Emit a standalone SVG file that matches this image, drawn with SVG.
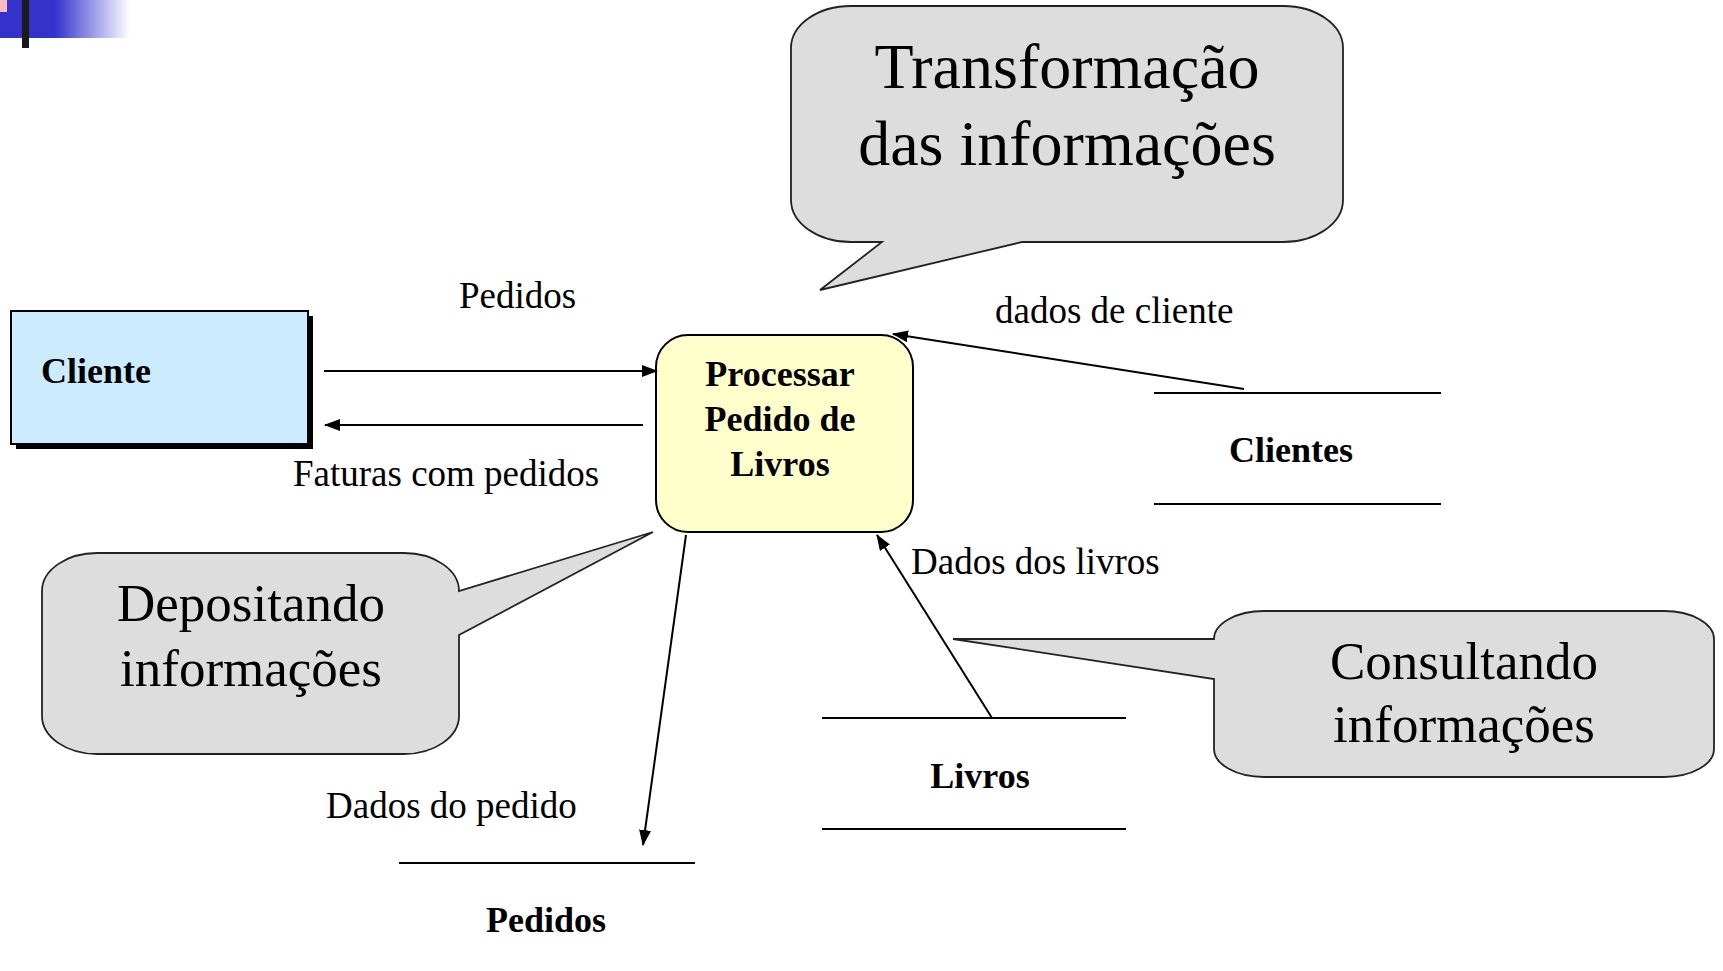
<svg xmlns="http://www.w3.org/2000/svg" width="1723" height="971" viewBox="0 0 1723 971">
<style>
.lbl{font-family:"Liberation Serif",serif;font-size:37px;fill:#000}
.bold{font-family:"Liberation Serif",serif;font-size:36px;font-weight:bold;fill:#000}
.big{font-family:"Liberation Serif",serif;fill:#000;text-anchor:middle}
.callout{fill:#DDDDDD;stroke:#222;stroke-width:1.8}
.conn{stroke:#000;stroke-width:2;fill:none}
.store{stroke:#000;stroke-width:2}
</style>
<defs>
<linearGradient id="grad" x1="0" y1="0" x2="1" y2="0">
<stop offset="0" stop-color="#3333CC"/>
<stop offset="0.42" stop-color="#3333CC"/>
<stop offset="1" stop-color="#FFFFFF"/>
</linearGradient>
<marker id="arr" markerWidth="16" markerHeight="12" refX="15" refY="6" orient="auto" markerUnits="userSpaceOnUse">
<path d="M0,0 L16,6 L0,12 Z" fill="#000"/>
</marker>
</defs>
<rect width="1723" height="971" fill="#fff"/>
<g id="decoration">
<rect x="0" y="0" width="130" height="38" fill="url(#grad)"/>
<rect x="0" y="0" width="7" height="12" fill="#FFBBBB"/>
<rect x="22" y="0" width="7" height="48" fill="#1a1a1a"/>
</g>
<g id="cliente">
<rect x="16" y="316" width="297" height="133" fill="#000"/>
<rect x="11" y="311" width="297" height="133" fill="#CCEBFF" stroke="#000" stroke-width="2"/>
<text class="bold" x="41" y="383">Cliente</text>
</g>
<g id="processo">
<rect x="656" y="335" width="257" height="197" rx="32" ry="32" fill="#FFFFCC" stroke="#000" stroke-width="2"/>
<text class="bold" x="780" y="386" text-anchor="middle">Processar</text>
<text class="bold" x="780" y="431" text-anchor="middle">Pedido de</text>
<text class="bold" x="780" y="476" text-anchor="middle">Livros</text>
</g>
<g id="store-clientes">
<line class="store" x1="1154" y1="393" x2="1441" y2="393"/>
<line class="store" x1="1154" y1="504" x2="1441" y2="504"/>
<text class="bold" x="1291" y="462" text-anchor="middle">Clientes</text>
</g>
<g id="store-livros">
<line class="store" x1="822" y1="718" x2="1126" y2="718"/>
<line class="store" x1="822" y1="829" x2="1126" y2="829"/>
<text class="bold" x="980" y="788" text-anchor="middle">Livros</text>
</g>
<g id="store-pedidos">
<line class="store" x1="399" y1="863" x2="695" y2="863"/>
<text class="bold" x="546" y="932" text-anchor="middle">Pedidos</text>
</g>
<g id="connectors">
<line class="conn" x1="324" y1="371" x2="657" y2="371" marker-end="url(#arr)"/>
<line class="conn" x1="643" y1="425" x2="325" y2="425" marker-end="url(#arr)"/>
<line class="conn" x1="1244" y1="389" x2="893" y2="334" marker-end="url(#arr)"/>
<line class="conn" x1="992" y1="718" x2="877" y2="535" marker-end="url(#arr)"/>
<line class="conn" x1="686" y1="535" x2="643" y2="845" marker-end="url(#arr)"/>
<text class="lbl" x="459" y="308">Pedidos</text>
<text class="lbl" x="293" y="486">Faturas com pedidos</text>
<text class="lbl" x="995" y="323">dados de cliente</text>
<text class="lbl" x="911" y="574">Dados dos livros</text>
<text class="lbl" x="326" y="818">Dados do pedido</text>
</g>
<g id="callout-transformacao">
<path class="callout" d="M 851,6 H 1283 A 60 42 0 0 1 1343,48 V 200 A 60 42 0 0 1 1283,242 H 1022 L 820,290 L 882,242 H 851 A 60 42 0 0 1 791,200 V 48 A 60 42 0 0 1 851,6 Z"/>
<text class="big" x="1067" y="88" font-size="64">Transformação</text>
<text class="big" x="1067" y="165" font-size="64">das informações</text>
</g>
<g id="callout-depositando">
<path class="callout" d="M 97,553 H 404 A 55 38 0 0 1 459,591 L 653,532 L 459,635 V 716 A 55 38 0 0 1 404,754 H 97 A 55 38 0 0 1 42,716 V 591 A 55 38 0 0 1 97,553 Z"/>
<text class="big" x="251" y="621" font-size="53">Depositando</text>
<text class="big" x="251" y="686" font-size="53">informações</text>
</g>
<g id="callout-consultando">
<path class="callout" d="M 1264,611 H 1664 A 50 28 0 0 1 1714,639 V 749 A 50 28 0 0 1 1664,777 H 1264 A 50 28 0 0 1 1214,749 V 679 L 953,639 L 1214,639 A 50 28 0 0 1 1264,611 Z"/>
<text class="big" x="1464" y="679" font-size="53">Consultando</text>
<text class="big" x="1464" y="742" font-size="53">informações</text>
</g>
</svg>
